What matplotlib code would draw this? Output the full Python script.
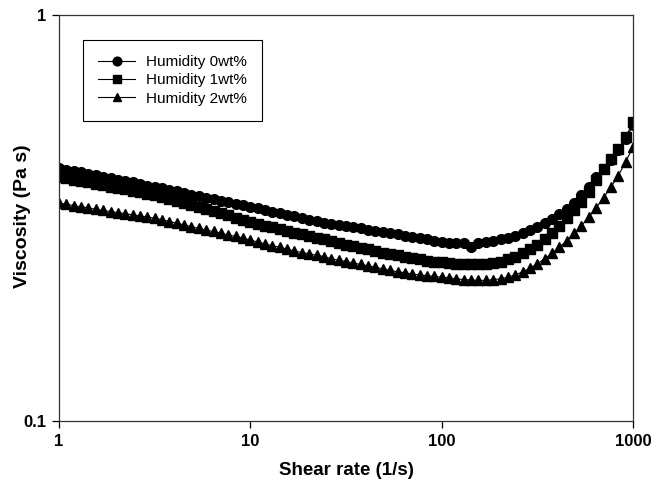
import matplotlib
matplotlib.use("Agg")
import matplotlib.pyplot as plt
from matplotlib.ticker import FixedLocator, NullLocator, FixedFormatter

plt.rcParams['font.family'] = ['Liberation Sans', 'DejaVu Sans']

# Shear rate (1/s), 26 points per decade from 1 to 1000
shear_rate = [
    1.000, 1.093, 1.194, 1.304, 1.425, 1.557, 1.701, 1.859, 2.031, 2.219, 2.425, 2.649, 2.894,
    3.162, 3.455, 3.775, 4.125, 4.507, 4.924, 5.380, 5.878, 6.422, 7.017, 7.667, 8.377, 9.153,
    10.00, 10.93, 11.94, 13.04, 14.25, 15.57, 17.01, 18.59, 20.31, 22.19, 24.25, 26.49, 28.94,
    31.62, 34.55, 37.75, 41.25, 45.07, 49.24, 53.80, 58.78, 64.22, 70.17, 76.67, 83.77, 91.53,
    100.0, 109.3, 119.4, 130.4, 142.5, 155.7, 170.1, 185.9, 203.1, 221.9, 242.5, 264.9, 289.4,
    316.2, 345.5, 377.5, 412.5, 450.7, 492.4, 538.0, 587.8, 642.2, 701.7, 766.7, 837.7, 915.3,
    1000.0,
]

visc_0wt = [
    0.420, 0.416, 0.413, 0.410, 0.406, 0.403, 0.400, 0.396, 0.393, 0.390, 0.387, 0.383, 0.380,
    0.377, 0.374, 0.371, 0.368, 0.364, 0.361, 0.358, 0.355, 0.352, 0.349, 0.346, 0.343, 0.340,
    0.337, 0.334, 0.331, 0.328, 0.325, 0.322, 0.319, 0.316, 0.313, 0.311, 0.308, 0.306, 0.304,
    0.302, 0.300, 0.298, 0.296, 0.294, 0.292, 0.290, 0.288, 0.286, 0.284, 0.282, 0.280, 0.278,
    0.276, 0.275, 0.275, 0.274, 0.268, 0.275, 0.276, 0.278, 0.280, 0.283, 0.286, 0.290, 0.295,
    0.301, 0.308, 0.315, 0.323, 0.332, 0.345, 0.360, 0.378, 0.398, 0.418, 0.440, 0.465, 0.495,
    0.535,
]

visc_1wt = [
    0.399, 0.396, 0.393, 0.390, 0.387, 0.384, 0.381, 0.378, 0.375, 0.372, 0.369, 0.366, 0.363,
    0.360, 0.356, 0.352, 0.348, 0.344, 0.340, 0.336, 0.332, 0.329, 0.325, 0.322, 0.316, 0.313,
    0.309, 0.306, 0.303, 0.300, 0.297, 0.294, 0.291, 0.288, 0.285, 0.283, 0.280, 0.277, 0.275,
    0.272, 0.270, 0.267, 0.265, 0.262, 0.260, 0.258, 0.256, 0.254, 0.252, 0.250, 0.248, 0.247,
    0.246, 0.245, 0.244, 0.244, 0.243, 0.243, 0.244, 0.245, 0.247, 0.250, 0.254, 0.259, 0.265,
    0.272, 0.280, 0.290, 0.302, 0.316, 0.330, 0.346, 0.366, 0.392, 0.418, 0.442, 0.468, 0.500,
    0.545,
]

visc_2wt = [
    0.344, 0.342, 0.339, 0.337, 0.335, 0.332, 0.330, 0.328, 0.326, 0.324, 0.322, 0.320, 0.318,
    0.316, 0.313, 0.310, 0.307, 0.304, 0.301, 0.298, 0.295, 0.293, 0.290, 0.287, 0.285, 0.282,
    0.279, 0.276, 0.273, 0.270, 0.268, 0.265, 0.262, 0.260, 0.258, 0.256, 0.254, 0.251, 0.249,
    0.247, 0.245, 0.243, 0.241, 0.239, 0.237, 0.235, 0.233, 0.232, 0.230, 0.229, 0.228, 0.227,
    0.226, 0.225, 0.224, 0.223, 0.2225, 0.222, 0.222, 0.223, 0.224, 0.226, 0.229, 0.233, 0.238,
    0.244, 0.251, 0.259, 0.268, 0.278, 0.290, 0.303, 0.318, 0.335, 0.355, 0.377, 0.402, 0.435,
    0.473,
]

labels = ["Humidity 0wt%", "Humidity 1wt%", "Humidity 2wt%"]
x_ticks = [1, 10, 100, 1000]
x_tick_labels = ["1", "10", "100", "1000"]
y_ticks = [0.1, 1]
y_tick_labels = ["0.1", "1"]

fig = plt.figure(figsize=(6.71, 4.82), dpi=100)
ax = fig.add_axes([59 / 671, 1 - 421 / 482, (633 - 59) / 671, (421 - 15) / 482])

series = [visc_0wt, visc_1wt, visc_2wt]
markers = ["o", "s", "^"]
for vals, mk, lab in zip(series, markers, labels):
    ax.plot(shear_rate, vals, color="black", lw=0.8, marker=mk, ms=7,
            markerfacecolor="black", markeredgecolor="black", label=lab)

ax.set_xscale("log")
ax.set_yscale("log")
ax.set_xlim(1, 1000)
ax.set_ylim(0.1, 1)

ax.xaxis.set_major_locator(FixedLocator(x_ticks))
ax.xaxis.set_major_formatter(FixedFormatter(x_tick_labels))
ax.xaxis.set_minor_locator(NullLocator())
ax.yaxis.set_major_locator(FixedLocator(y_ticks))
ax.yaxis.set_major_formatter(FixedFormatter(y_tick_labels))
ax.yaxis.set_minor_locator(NullLocator())

ax.tick_params(axis="both", direction="out", length=5, width=0.9, labelsize=12, pad=4)
for lbl in ax.get_xticklabels() + ax.get_yticklabels():
    lbl.set_fontweight("bold")

for sp in ax.spines.values():
    sp.set_linewidth(0.9)
    sp.set_color("#333333")

ax.set_xlabel("Shear rate (1/s)", fontsize=13.5, fontweight="bold")
ax.set_ylabel("Viscosity (Pa s)", fontsize=14, fontweight="bold")
ax.xaxis.set_label_coords((346 - 59) / 574, -(462 - 421) / 406)
ax.yaxis.set_label_coords(-(59 - 31) / 574, (421 - 216) / 406)

leg = ax.legend(loc="upper left", bbox_to_anchor=(24 / 574, 1 - 25 / 406), fontsize=11,
                frameon=True, fancybox=False, edgecolor="black", framealpha=1,
                borderaxespad=0, handlelength=2.4, labelspacing=0.27, borderpad=1.0,
                handletextpad=0.7, markerscale=0.9)
leg.get_frame().set_linewidth(0.8)

fig.savefig("out.png", dpi=100)
